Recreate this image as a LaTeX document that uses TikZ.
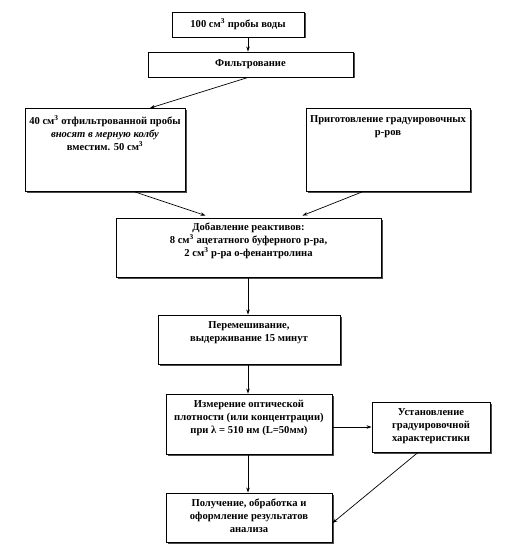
\documentclass[tikz,border=0pt]{standalone}
\usepackage{fontspec}
\setmainfont{Liberation Serif}
\usetikzlibrary{calc,shadows,arrows.meta}
\begin{document}
\begin{tikzpicture}[x=1pt,y=-1pt,
  box/.style={draw=black, line width=0.9pt, fill=white, inner sep=0pt,
    drop shadow={shadow xshift=1.5pt, shadow yshift=-1.5pt, fill=black!70, opacity=1}},
  txt/.style={align=center, font=\fontsize{10.6}{13}\selectfont\bfseries, inner sep=0pt},
  arr/.style={line width=0.7pt, -{Stealth[length=5pt,width=3.5pt]}}]
\useasboundingbox (0,0) rectangle (508,559);
\coordinate (ax) at (248,0);
% boxes
\node[box, minimum width=132, minimum height=25] (b1) at (238,24.5) {};
\node[box, minimum width=205, minimum height=25] (b2) at (250.5,64.5) {};
\node[box, minimum width=160, minimum height=83] (b3) at (105,150) {};
\node[box, minimum width=164, minimum height=83] (b4) at (388,150) {};
\node[box, minimum width=265, minimum height=59] (b5) at (248.5,247.5) {};
\node[box, minimum width=182, minimum height=49] (b6) at (249,339.5) {};
\node[box, minimum width=166, minimum height=60] (b7) at (249,424) {};
\node[box, minimum width=118, minimum height=50] (b8) at (431,427) {};
\node[box, minimum width=166, minimum height=49] (b9) at (249,517.5) {};
% texts
\node[txt] (t1) at (238,24) {100 см\textsuperscript{3} пробы воды};
\node[txt] (t2) at (250.5,64) {Фильтрование};
\node[txt] (t3) at (105,133) {40 см\textsuperscript{3} отфильтрованной пробы\\ \textit{вносят в мерную колбу}\\ вместим. 50 см\textsuperscript{3}};
\node[txt] (t4) at (388,127) {Приготовление градуировочных\\ р-ров};
\node[txt] (t5) at (248.5,241) {Добавление реактивов:\\ 8 см\textsuperscript{3} ацетатного буферного р-ра,\\ 2 см\textsuperscript{3} р-ра о-фенантролина};
\node[txt] (t6) at (249,332.5) {Перемешивание,\\ выдерживание 15 минут};
\node[txt] (t7) at (249,418) {Измерение оптической\\ плотности (или концентрации)\\ при λ = 510 нм (L=50мм)};
\node[txt] (t8) at (431,426) {Установление\\ градуировочной\\ характеристики};
\node[txt] (t9) at (249,516) {Получение, обработка и\\ оформление результатов\\ анализа};
% connectors
\draw[arr] (b1.south -| ax) -- (b2.north -| ax);
\draw[arr] (b2.south -| ax) -- ($(b3.north)+(45,0)$);
\draw[arr] ($(b3.south)+(30,0)$) -- ($(b5.north)+(-43,-2)$);
\draw[arr] ($(b4.south)+(-26,0)$) -- ($(b5.north)+(54,-2)$);
\draw[arr] (b5.south -| ax) -- (b6.north -| ax);
\draw[arr] (b6.south -| ax) -- (b7.north -| ax);
\draw[arr] (b7.east |- b8.west) -- (b8.west);
\draw[arr] (b7.south -| ax) -- (b9.north -| ax);
\draw[arr] ($(b8.south)+(-13,0)$) -- ($(b9.east)+(0,5.5)$);
\end{tikzpicture}
\end{document}
